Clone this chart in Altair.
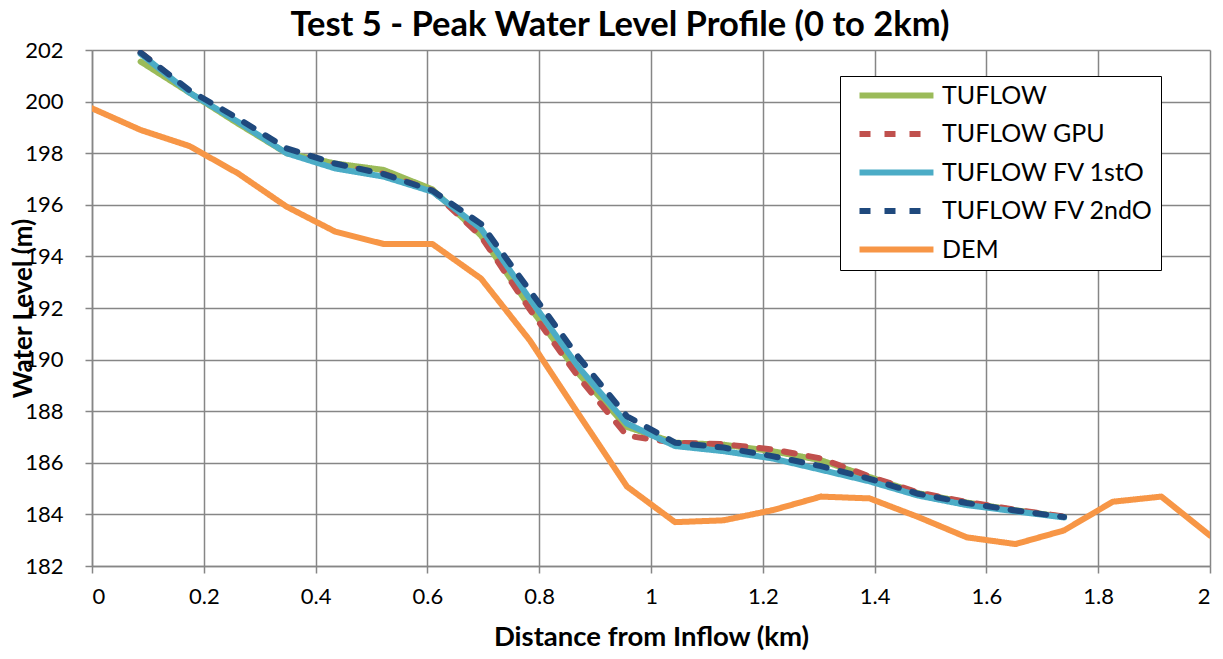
import altair as alt
import pandas as pd

# ---- data ----
dem_x = [0, 0.087, 0.174, 0.261, 0.348, 0.435, 0.522, 0.609, 0.696, 0.783,
         0.870, 0.957, 1.043, 1.130, 1.217, 1.304, 1.391, 1.478, 1.565, 1.652,
         1.739, 1.826, 1.913, 2.0]
dem_y = [199.74, 198.9, 198.28, 197.22, 195.93, 194.96, 194.48, 194.48, 193.14, 190.75,
         187.9, 185.08, 183.70, 183.77, 184.16, 184.69, 184.62, 183.90, 183.11, 182.85,
         183.38, 184.49, 184.69, 183.18]

wl_x = [0.087, 0.174, 0.261, 0.348, 0.435, 0.522, 0.609, 0.696, 0.783, 0.870,
        0.957, 1.043, 1.130, 1.217, 1.304, 1.391, 1.478, 1.565, 1.652, 1.739]
tuflow = [201.55, 200.35, 199.15, 198.0, 197.6, 197.35, 196.6, 194.81, 192.04, 189.46,
          187.39, 186.78, 186.7, 186.45, 186.1, 185.45, 184.82, 184.46, 184.16, 183.9]
tuflow_gpu = [201.9, 200.4, 199.25, 198.05, 197.55, 197.2, 196.55, 194.77, 191.95, 189.33,
              187.05, 186.78, 186.72, 186.52, 186.17, 185.47, 184.85, 184.48, 184.18, 183.92]
tuflow_fv1 = [201.85, 200.35, 199.22, 198.0, 197.41, 197.09, 196.51, 195.07, 192.36, 189.72,
              187.52, 186.65, 186.45, 186.17, 185.73, 185.28, 184.73, 184.36, 184.12, 183.88]
tuflow_fv2 = [201.9, 200.44, 199.35, 198.19, 197.6, 197.19, 196.55, 195.26, 192.68, 190.1,
              187.8, 186.78, 186.59, 186.26, 185.87, 185.38, 184.8, 184.44, 184.15, 183.9]

series_names = ["TUFLOW", "TUFLOW GPU", "TUFLOW FV 1stO", "TUFLOW FV 2ndO", "DEM"]
series_colors = ["#9BBB59", "#C0504D", "#4BACC6", "#1F497D", "#F79646"]
series_dash = [[1, 0], [11, 14], [1, 0], [11, 14], [1, 0]]
series_width = [6, 6, 6, 6, 7.5]

x_ticks = [0, 0.2, 0.4, 0.6, 0.8, 1.0, 1.2, 1.4, 1.6, 1.8, 2.0]
y_ticks = [182, 184, 186, 188, 190, 192, 194, 196, 198, 200, 202]

rows = []
for name, vals in zip(series_names[:4], [tuflow, tuflow_gpu, tuflow_fv1, tuflow_fv2]):
    for i, (xv, yv) in enumerate(zip(wl_x, vals)):
        rows.append({"series": name, "x": xv, "y": yv, "order": i})
for i, (xv, yv) in enumerate(zip(dem_x, dem_y)):
    rows.append({"series": "DEM", "x": xv, "y": yv, "order": i})
df = pd.DataFrame(rows)

FONT = "Lato"

chart = alt.Chart(df).mark_line(strokeCap="round", strokeJoin="round", clip=True).encode(
    x=alt.X("x:Q", title="Distance from Inflow (km)",
            scale=alt.Scale(domain=[0, 2], nice=False, zero=False),
            axis=alt.Axis(values=x_ticks, format="~g", grid=True)),
    y=alt.Y("y:Q", title="Water Level (m)",
            scale=alt.Scale(domain=[182, 202], nice=False, zero=False),
            axis=alt.Axis(values=y_ticks, grid=True)),
    color=alt.Color("series:N", sort=series_names,
                    scale=alt.Scale(domain=series_names, range=series_colors),
                    legend=alt.Legend(title=None, orient="none", legendX=748, legendY=26,
                                      symbolType="M0,0H8", symbolSize=342,
                                      symbolStrokeWidth=6, labelFontSize=25,
                                      labelFont=FONT, labelColor="#000000",
                                      labelOffset=70, rowPadding=12.5,
                                      padding=7, strokeColor="#000000",
                                      fillColor="#ffffff", labelLimit=400)),
    strokeDash=alt.StrokeDash("series:N", sort=series_names,
                              scale=alt.Scale(domain=series_names, range=series_dash),
                              legend=None),
    strokeWidth=alt.StrokeWidth("series:N", sort=series_names,
                                scale=alt.Scale(domain=series_names, range=series_width),
                                legend=None),
    order="order:Q",
).properties(
    width=1118, height=516,
    autosize=alt.AutoSizeParams(type="none"),
    padding={"left": 84, "top": 42, "right": 5, "bottom": 85},
    title=alt.Title("Test 5 - Peak Water Level Profile (0 to 2km)", font=FONT,
                    fontSize=34.5, fontWeight="bold", color="#000000", offset=-4, dx=-31),
).configure_axis(
    gridColor="#868686", gridWidth=1.5, gridOpacity=1,
    domainColor="#868686", domainWidth=1.5,
    tickColor="#868686", tickWidth=1.5, tickSize=7,
    labelFont=FONT, labelFontSize=22, labelColor="#000000",
    titleFont=FONT, titleFontWeight="bold", titleColor="#000000",
).configure_axisX(
    labelPadding=13, titlePadding=16, titleFontSize=27.5,
).configure_axisY(
    labelPadding=22, titlePadding=-12, titleFontSize=26,
).configure_view(stroke=None)

chart.save("out.html", embed_options={"renderer": "svg", "actions": False})
